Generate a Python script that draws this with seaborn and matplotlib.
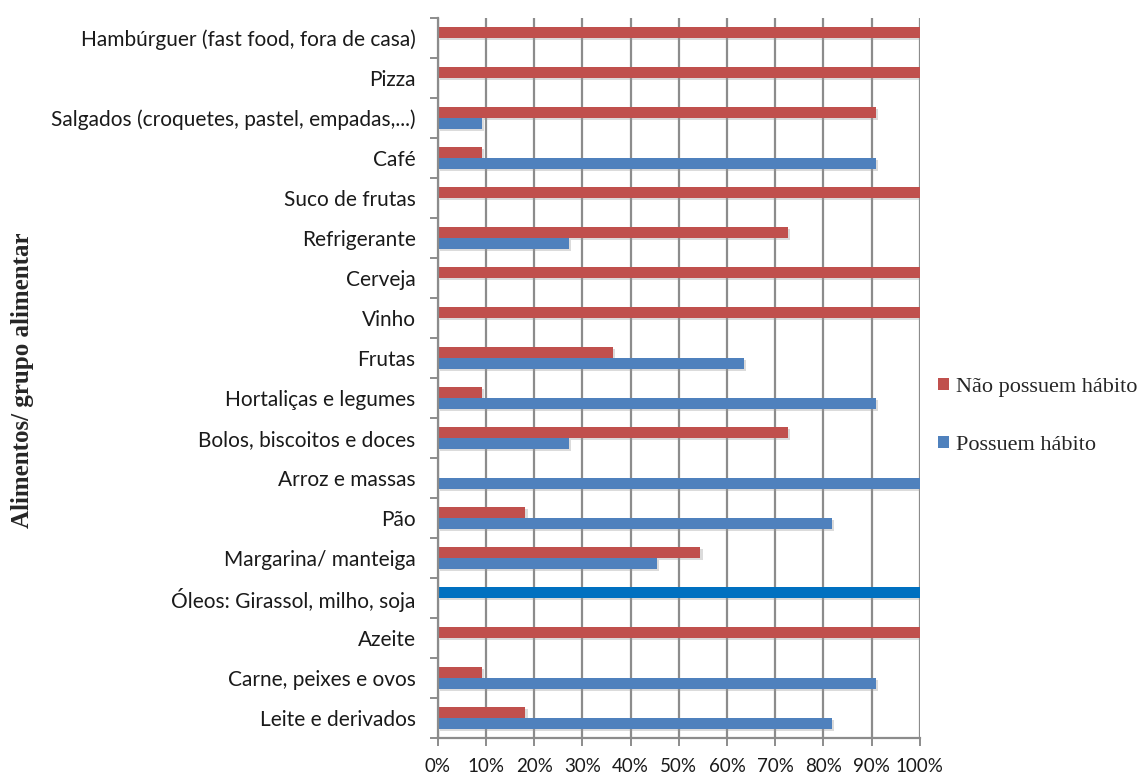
import matplotlib
matplotlib.use("Agg")
import matplotlib.pyplot as plt
import matplotlib.patheffects as pe
from matplotlib.ticker import FixedLocator, PercentFormatter
import seaborn as sns
import pandas as pd

categories = [
    "Hambúrguer (fast food, fora de casa)",
    "Pizza",
    "Salgados (croquetes, pastel, empadas,...)",
    "Café",
    "Suco de frutas",
    "Refrigerante",
    "Cerveja",
    "Vinho",
    "Frutas",
    "Hortaliças e legumes",
    "Bolos, biscoitos e doces",
    "Arroz e massas",
    "Pão",
    "Margarina/ manteiga",
    "Óleos: Girassol, milho, soja",
    "Azeite",
    "Carne, peixes e ovos",
    "Leite e derivados",
]
nao_possuem = [100, 100, 90.9, 9.1, 100, 72.7, 100, 100, 36.4, 9.1,
               72.7, 0, 18.2, 54.5, 100, 100, 9.1, 18.2]
possuem = [0, 0, 9.1, 90.9, 0, 27.3, 0, 0, 63.6, 90.9,
           27.3, 100, 81.8, 45.5, 0, 0, 90.9, 81.8]
series_names = ["Não possuem hábito", "Possuem hábito"]
series_colors = ["#C0504D", "#4F81BD"]
highlight_category = "Óleos: Girassol, milho, soja"
highlight_color = "#0070C0"

df = pd.DataFrame({
    "Categoria": categories * 2,
    "Valor": nao_possuem + possuem,
    "Série": [series_names[0]] * len(categories) + [series_names[1]] * len(categories),
})

sns.set_theme(style="white")
fig = plt.figure(figsize=(11.37, 7.73), dpi=100)
ax = fig.add_axes([0.385, 0.045, 0.424, 0.932])

sns.barplot(data=df, y="Categoria", x="Valor", hue="Série", order=categories,
            hue_order=series_names, palette=series_colors, saturation=1, orient="h",
            width=0.55, ax=ax, legend=True, edgecolor="none", linewidth=0)

shadow = [pe.SimplePatchShadow(offset=(1.5, -1.5), shadow_rgbFace="#999999", alpha=0.35),
          pe.Normal()]
first_series = ax.containers[0]
for i, bar in enumerate(first_series):
    if categories[i] == highlight_category:
        bar.set_facecolor(highlight_color)
for cont in ax.containers:
    for bar in cont:
        bar.set_path_effects(shadow)

ax.set_xlim(0, 100)
ax.set_ylim(len(categories) - 0.5, -0.5)
ax.xaxis.set_major_locator(FixedLocator(range(0, 101, 10)))
ax.xaxis.set_major_formatter(PercentFormatter(decimals=0))
ax.grid(axis="x", color="#8C8C8C", linewidth=1.6)
ax.grid(axis="y", visible=False)
ax.set_axisbelow(True)

for side in ("top", "right"):
    ax.spines[side].set_visible(False)
for side in ("left", "bottom"):
    ax.spines[side].set_color("#8C8C8C")
    ax.spines[side].set_linewidth(1.6)

ax.yaxis.set_minor_locator(FixedLocator([i - 0.5 for i in range(len(categories) + 1)]))
ax.tick_params(axis="y", which="major", length=0, pad=16)
ax.tick_params(axis="y", which="minor", length=6, width=1.4, color="#8C8C8C", left=True)
ax.tick_params(axis="x", which="major", length=6, width=1.4, color="#8C8C8C", bottom=True,
               pad=8)

for lab in ax.get_yticklabels():
    lab.set_fontfamily(["Lato", "DejaVu Sans"])
    lab.set_fontsize(15)
    lab.set_color("#1a1a1a")
for lab in ax.get_xticklabels():
    lab.set_fontfamily(["Lato", "DejaVu Sans"])
    lab.set_fontsize(13.5)
    lab.set_color("#1a1a1a")

ax.set_xlabel("")
ax.set_ylabel("")
fig.text(0.02, 0.508, "Alimentos/ grupo alimentar", rotation=90, va="center", ha="center",
         fontfamily="Liberation Serif", fontweight="bold", fontsize=18)

leg = ax.legend(loc="center left", bbox_to_anchor=(1.02, 0.447), borderaxespad=0,
                frameon=False, prop={"family": "Liberation Serif", "size": 16},
                handlelength=0.5, handleheight=0.5, handletextpad=0.3,
                labelspacing=1.75)

fig.savefig("out.png", dpi=100, facecolor="white")
